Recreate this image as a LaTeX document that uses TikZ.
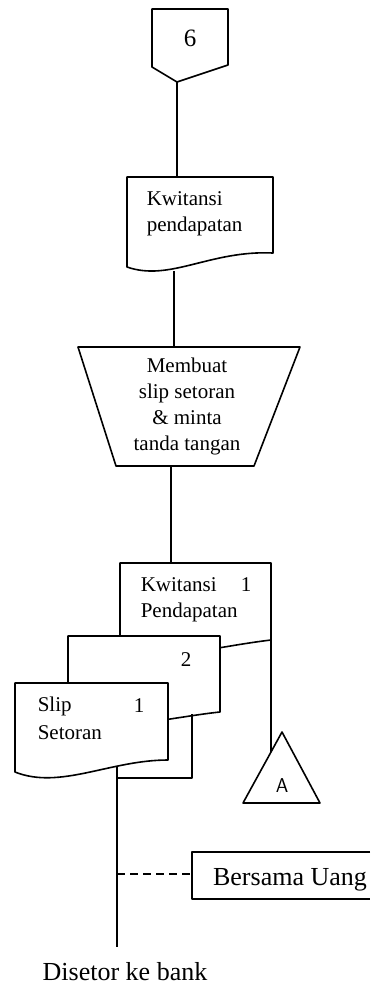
\documentclass[tikz,border=0pt]{standalone}
\usepackage{fontspec}
\setmainfont{Liberation Serif}
\begin{document}
\begin{tikzpicture}[x=1pt,y=-1pt, line width=1.6pt, line join=round,
  shp/.style={draw, fill=white},
  txt/.style={font=\fontsize{21}{26}\selectfont, inner sep=0pt},
  big/.style={font=\fontsize{26}{30}\selectfont, inner sep=0pt},
  dashline/.style={dash pattern=on 8pt off 5pt, line width=1.3pt}]
\useasboundingbox (0,0) rectangle (374,991);

% off-page connector 6
\draw[shp] (152,9) -- (228,9) -- (228,65) -- (177,82) -- (152,67) -- cycle;
\node[font=\fontsize{25}{28}\selectfont, inner sep=0pt] (six) at (190,38) {6};
\coordinate (sixb) at (177,82);

% document Kwitansi pendapatan
\draw[shp] (127,267) -- (127,177) -- (273,177) -- (273,253)
  .. controls (210,250) and (170,282) .. (127,267) -- cycle;
\node[txt, align=left, anchor=west] (kp) at (146,214) {Kwitansi\\pendapatan};
\coordinate (kpt) at (177,177);
\coordinate (kpb) at (174,271);

% manual operation trapezoid
\draw[shp] (78,347) -- (300,347) -- (254,466) -- (116,466) -- cycle;
\node[txt, align=center] (op) at (187,406) {Membuat\\slip setoran\\\& minta\\tanda tangan};
\coordinate (opt) at (174,347);
\coordinate (opb) at (171,466);

% document 1 (Kwitansi Pendapatan)
\draw[shp] (120,563) -- (271,563) -- (271,640)
  .. controls (220,646) and (170,660) .. (120,655) -- cycle;
\node[txt, anchor=west] (d1a) at (140,585) {Kwitansi};
\node[txt] (d1n) at (246,585) {1};
\node[txt, anchor=west] (d1b) at (140,612) {Pendapatan};
\coordinate (d1t) at (171,563);
\coordinate (d1r) at (271,640);

% document 2
\draw[shp] (68,636) -- (220,636) -- (220,712)
  .. controls (180,716) and (110,732) .. (68,725) -- cycle;
\node[txt] (d2n) at (186,660) {2};
\coordinate (d2b) at (192,714);
\coordinate (d2c) at (192,778);

% document 3 (Slip Setoran)
\draw[shp] (15,683) -- (168,683) -- (168,760)
  .. controls (110,760) and (60,790) .. (15,772) -- cycle;
\node[txt, anchor=west] (d3a) at (37,706) {Slip};
\node[txt] (d3n) at (139,706) {1};
\node[txt, anchor=west] (d3b) at (37,733) {Setoran};
\coordinate (d3bot) at (117,767);
\coordinate (join) at (117,778);
\coordinate (dash) at (117,874);
\coordinate (endp) at (117,947);

% off-page triangle A
\draw[shp] (282,732) -- (320,803) -- (243,803) -- cycle;
\node[font=\fontsize{20}{24}\selectfont\sffamily, inner sep=0pt] (A) at (282,786) {A};
\coordinate (tri) at (271,752);

% Bersama Uang bracket
\draw (370,852) -- (192,852) -- (192,899) -- (370,899);
\coordinate (bu) at (192,874);
\node[big] (bers) at (290,880) {Bersama Uang};

% end label
\node[big] (dis) at (125,972) {Disetor ke bank};

% connectors
\draw (sixb) -- (kpt);
\draw (kpb) -- (opt);
\draw (opb) -- (d1t);
\draw (d1r) -- (tri);
\draw (d2b) -- (d2c) -- (join);
\draw (d3bot) -- (endp);
\draw[dashline] (dash) -- (bu);
\end{tikzpicture}
\end{document}
